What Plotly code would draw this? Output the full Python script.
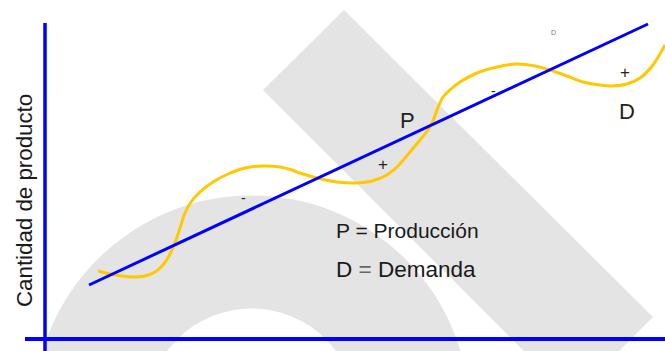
import plotly.graph_objects as go

# ---- data (x to the right, y = quantity upward) ----
demanda_x = [98, 110, 122, 132, 145, 155, 163, 169, 175, 180, 185, 191, 200, 213, 228, 245,
             263, 280, 292, 300, 317, 337, 357, 372, 385, 398, 410, 420, 428, 433, 437, 443,
             451, 460, 477, 497, 517, 535, 550, 567, 583, 600, 612, 627, 640, 653, 665]
demanda_y = [80, 77, 75, 74, 75, 79, 86, 95, 108, 123, 138, 149, 159, 169, 177, 183,
             185, 184, 181, 178, 173, 169, 168, 170, 175, 185, 199, 211, 221, 230, 241, 254,
             262, 269, 278, 284, 287, 285, 281, 275, 269, 266, 265, 267, 273, 286, 306]

produccion_x = [89, 648]
produccion_y = [66, 327]

y_axis_x = [45, 45]
y_axis_y = [-5, 328]
x_axis_x = [25, 665]
x_axis_y = [12, 12]

labels = ["P", "D", "+", "+", "-", "-", "D"]
labels_x = [407, 627, 383, 625, 493, 243, 553]
labels_y = [231, 240, 187, 279, 260, 153, 319]

legend_lines = ["P = Producción", "D <span style='color:#666'>=</span> Demanda"]
legend_x = [407, 406]
legend_y = [121, 82]
legend_sizes = [21, 22.5]

axis_title = "Cantidad de producto"

# watermark geometry
ring_center = (251.6, -62.4)
ring_outer = 218
ring_inner = 105
band_x = [263, 344, 653, 619, 524]
band_y = [261, 341, 34, 0, 0]

GRAY = "#E4E4E4"
BLUE = "#0000FF"
YELLOW = "#FFC800"
TXT = "#1a1a1a"

fig = go.Figure()

shapes = []
# ring (gray disc + white hole)
cx, cy = ring_center
shapes.append(dict(type="circle", xref="x", yref="y", layer="below",
                   x0=cx - ring_outer, x1=cx + ring_outer, y0=cy - ring_outer, y1=cy + ring_outer,
                   fillcolor=GRAY, line=dict(width=0)))
shapes.append(dict(type="circle", xref="x", yref="y", layer="below",
                   x0=cx - ring_inner, x1=cx + ring_inner, y0=cy - ring_inner, y1=cy + ring_inner,
                   fillcolor="white", line=dict(width=0)))
# diagonal band
path = "M " + " L ".join(f"{x},{y}" for x, y in zip(band_x, band_y)) + " Z"
shapes.append(dict(type="path", xref="x", yref="y", layer="below", path=path,
                   fillcolor=GRAY, line=dict(width=0)))

fig.add_trace(go.Scatter(x=demanda_x, y=demanda_y, mode="lines",
                         line=dict(color=YELLOW, width=3, shape="spline", smoothing=0.8),
                         hoverinfo="skip", showlegend=False))
fig.add_trace(go.Scatter(x=produccion_x, y=produccion_y, mode="lines",
                         line=dict(color=BLUE, width=3), hoverinfo="skip", showlegend=False))
fig.add_trace(go.Scatter(x=y_axis_x, y=y_axis_y, mode="lines",
                         line=dict(color=BLUE, width=3.5), hoverinfo="skip", showlegend=False))
fig.add_trace(go.Scatter(x=x_axis_x, y=x_axis_y, mode="lines",
                         line=dict(color=BLUE, width=4), hoverinfo="skip", showlegend=False))

annotations = []
label_sizes = [22, 22, 17, 17, 14, 14, 7]
label_colors = ["#222", "#222", "#222", "#222", "#222", "#222", "#777"]
for t, x, y, s, c in zip(labels, labels_x, labels_y, label_sizes, label_colors):
    annotations.append(dict(text=t, x=x, y=y, xref="x", yref="y", showarrow=False,
                            font=dict(family="Liberation Sans, Arial", size=s, color=c)))
for t, x, y, s in zip(legend_lines, legend_x, legend_y, legend_sizes):
    annotations.append(dict(text=t, x=x, y=y, xref="x", yref="y", showarrow=False,
                            font=dict(family="Liberation Sans, Arial", size=s, color=TXT)))
annotations.append(dict(text=axis_title, x=24, y=150, xref="x", yref="y", showarrow=False,
                        textangle=-90,
                        font=dict(family="Liberation Sans, Arial", size=22.3, color=TXT)))

fig.update_layout(
    width=665, height=351,
    margin=dict(l=0, r=0, t=0, b=0),
    paper_bgcolor="white", plot_bgcolor="white",
    xaxis=dict(range=[0, 665], visible=False, fixedrange=True),
    yaxis=dict(range=[0, 351], visible=False, fixedrange=True),
    shapes=shapes, annotations=annotations,
    showlegend=False,
)

fig.write_html("out.html", config={"displayModeBar": False},
               post_script="document.body.style.margin='0';")
